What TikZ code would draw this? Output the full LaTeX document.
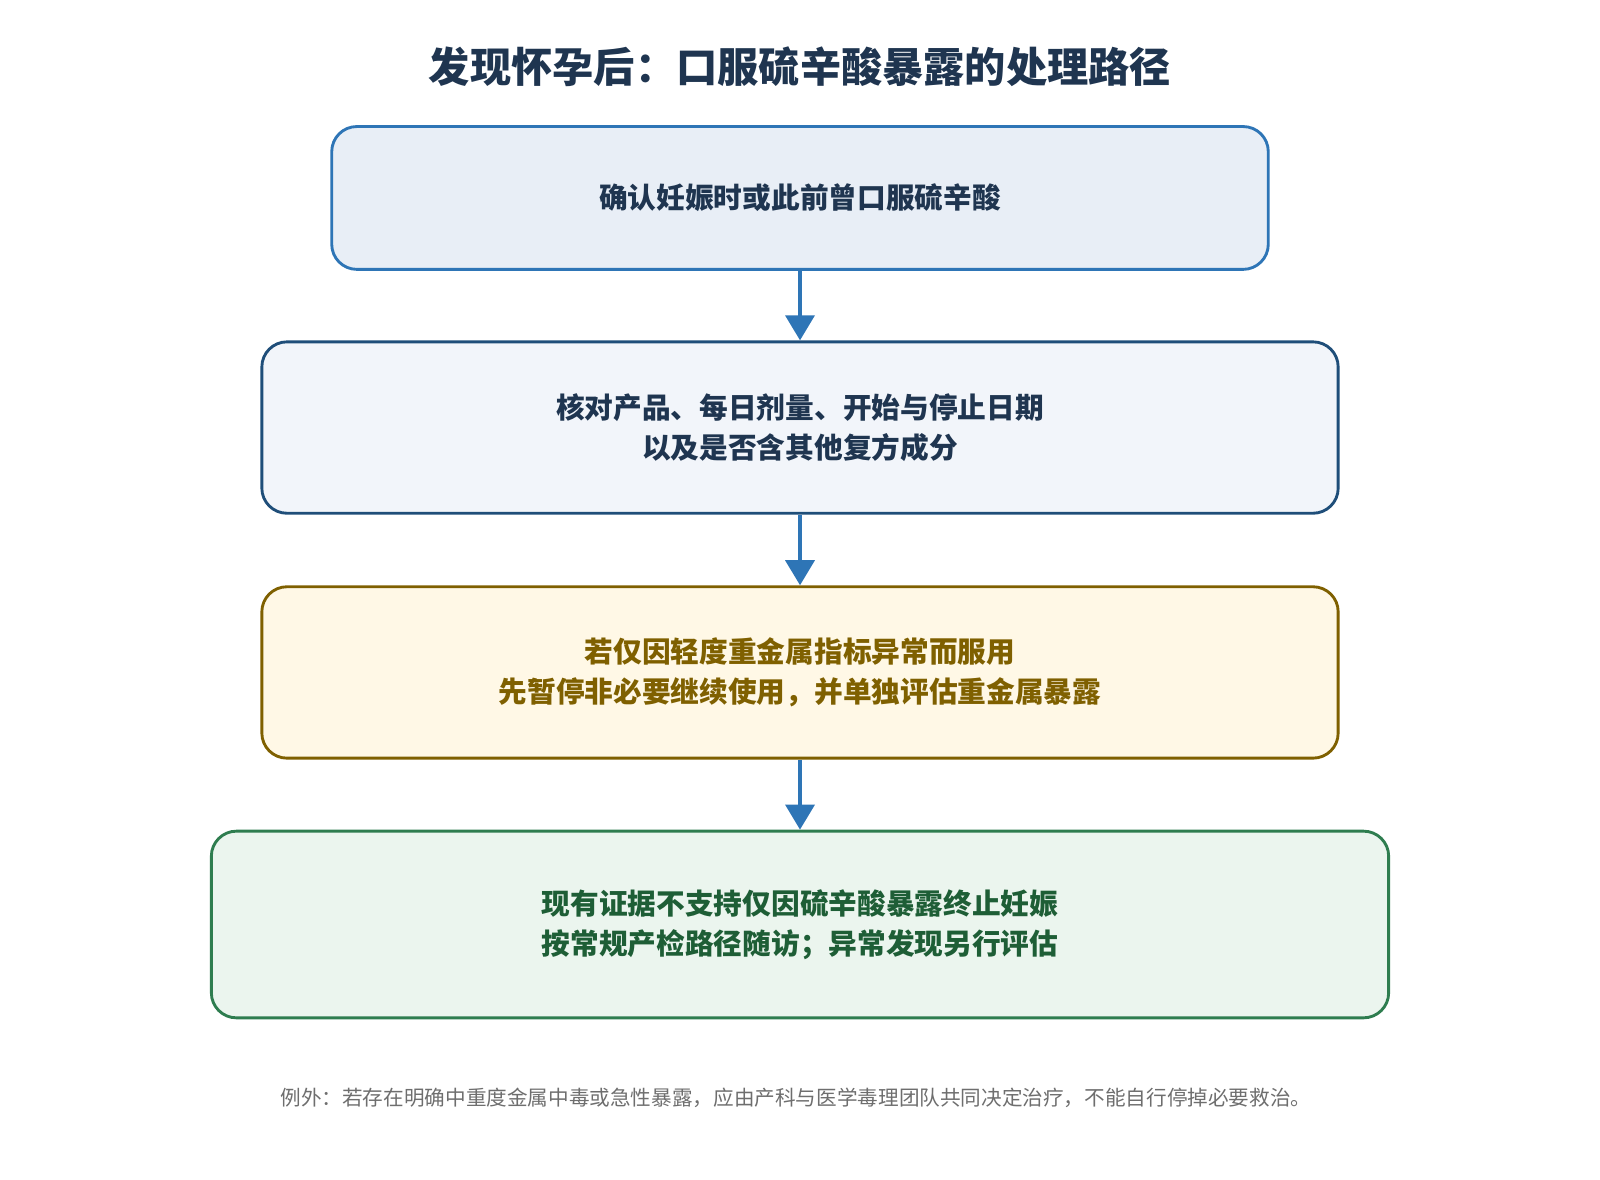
\documentclass[tikz,border=0pt]{standalone}
\usepackage{fontspec}
\setmainfont{Noto Sans CJK SC}
\usetikzlibrary{arrows.meta}
\definecolor{bluedge}{HTML}{2E75B6}
\definecolor{navyedge}{HTML}{1F4E79}
\definecolor{navytext}{HTML}{1F3550}
\definecolor{goldedge}{HTML}{7F6000}
\definecolor{greenedge}{HTML}{2E7D4F}
\definecolor{greentext}{HTML}{1E5E36}
\definecolor{bluefill}{HTML}{E8EEF6}
\definecolor{navyfill}{HTML}{F2F5FA}
\definecolor{goldfill}{HTML}{FFF8E6}
\definecolor{greenfill}{HTML}{EBF5EE}
\definecolor{notegray}{HTML}{6E6E6E}
\tikzset{
  stepbox/.style={draw, line width=1.6pt, rounded corners=14pt, align=center,
    font=\fontsize{16}{22}\selectfont\bfseries},
  flow/.style={-{Triangle[length=14pt,width=16pt]}, line width=2.6pt, bluedge}
}
\begin{document}
\begin{tikzpicture}[x=0.02cm,y=-0.02cm]
  \useasboundingbox (0,0) rectangle (1568,1156);
  % Title
  \node[font=\fontsize{23}{28}\selectfont\bfseries, text=navytext] (title) at (784,65) {发现怀孕后：口服硫辛酸暴露的处理路径};
  % Steps
  \node[stepbox, draw=bluedge, fill=bluefill, text=navytext, minimum width=18.36cm, minimum height=2.8cm] (confirm) at (784,194) {确认妊娠时或此前曾口服硫辛酸};
  \node[stepbox, draw=navyedge, fill=navyfill, text=navytext, minimum width=21.1cm, minimum height=3.36cm] (check) at (784,419) {核对产品、每日剂量、开始与停止日期\\以及是否含其他复方成分};
  \node[stepbox, draw=goldedge, fill=goldfill, text=goldedge, minimum width=21.1cm, minimum height=3.36cm] (pause) at (784,659) {若仅因轻度重金属指标异常而服用\\先暂停非必要继续使用，并单独评估重金属暴露};
  \node[stepbox, draw=greenedge, fill=greenfill, text=greentext, minimum width=23.08cm, minimum height=3.66cm] (follow) at (784,906) {现有证据不支持仅因硫辛酸暴露终止妊娠\\按常规产检路径随访；异常发现另行评估};
  % Arrows
  \draw[flow] (confirm) -- (check);
  \draw[flow] (check) -- (pause);
  \draw[flow] (pause) -- (follow);
  % Note
  \node[font=\fontsize{11.5}{14}\selectfont, text=notegray] (note) at (780,1076) {例外：若存在明确中重度金属中毒或急性暴露，应由产科与医学毒理团队共同决定治疗，不能自行停掉必要救治。};
\end{tikzpicture}
\end{document}
